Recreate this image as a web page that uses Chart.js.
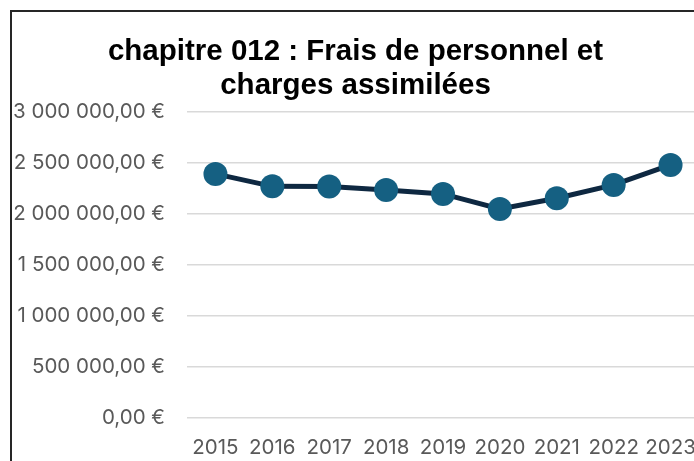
<!DOCTYPE html>
<html>
<head>
<meta charset="utf-8">
<script src="https://cdn.jsdelivr.net/npm/chart.js@4/dist/chart.umd.min.js"></script>
<style>
  html, body { margin: 0; padding: 0; background: #ffffff; overflow: hidden; width: 694px; height: 461px; }
  #frame { position: absolute; left: 10px; top: 10px; width: 720px; height: 520px; border: 2px solid #262626; box-sizing: border-box; }
  #c { position: absolute; left: 12px; top: 12px; }
</style>
</head>
<body>
<div id="frame"></div>
<canvas id="c" width="690" height="466"></canvas>
<script>
const titleLines = ["chapitre 012 : Frais de personnel et", "charges assimilées"];
const years = ["2015", "2016", "2017", "2018", "2019", "2020", "2021", "2022", "2023"];
const amounts = [2392000, 2270000, 2268000, 2235000, 2196000, 2049000, 2154000, 2284000, 2480000];
const yMin = 0;
const yMax = 3000000;
const yStep = 500000;

function formatEuro(v) {
  const fixed = Math.abs(v).toFixed(2);
  const parts = fixed.split(".");
  const intPart = parts[0].replace(/\B(?=(\d{3})+(?!\d))/g, " ");
  return (v < 0 ? "-" : "") + intPart + "," + parts[1] + " €";
}

const tickFont = { family: "Inter, 'Liberation Sans', sans-serif", size: 20.5 };

new Chart(document.getElementById("c"), {
  type: "line",
  data: {
    labels: years,
    datasets: [{
      data: amounts,
      borderColor: "#0e2841",
      borderWidth: 5,
      pointRadius: 12,
      pointHoverRadius: 12,
      pointBackgroundColor: "#156082",
      pointBorderColor: "#156082",
      pointBorderWidth: 0,
      tension: 0,
      fill: false,
      clip: false
    }]
  },
  options: {
    responsive: false,
    animation: false,
    devicePixelRatio: 1,
    layout: { autoPadding: false, padding: { left: 0, right: 3, top: 0, bottom: 0 } },
    plugins: {
      legend: { display: false },
      tooltip: { enabled: false },
      title: {
        display: true,
        text: titleLines,
        color: "#000000",
        font: { family: "'Liberation Sans', Arial, sans-serif", size: 29.5, weight: "bold", lineHeight: 1.15 },
        padding: { top: 23, bottom: 9 }
      }
    },
    scales: {
      x: {
        offset: true,
        grid: { display: false, drawTicks: false },
        border: { display: false },
        ticks: {
          color: "#595959",
          padding: 18,
          maxRotation: 0,
          autoSkip: false,
          font: tickFont
        },
        afterFit(scale) { scale.height = 60; scale.paddingLeft = 0; scale.paddingRight = 0; }
      },
      y: {
        min: yMin,
        max: yMax,
        grid: { color: "#d9d9d9", lineWidth: 1.5, drawTicks: false },
        border: { display: false },
        ticks: {
          stepSize: yStep,
          color: "#595959",
          padding: 22,
          font: tickFont,
          callback: (v) => formatEuro(v)
        },
        afterFit(scale) { scale.width = 175; }
      }
    }
  }
});
</script>
</body>
</html>
